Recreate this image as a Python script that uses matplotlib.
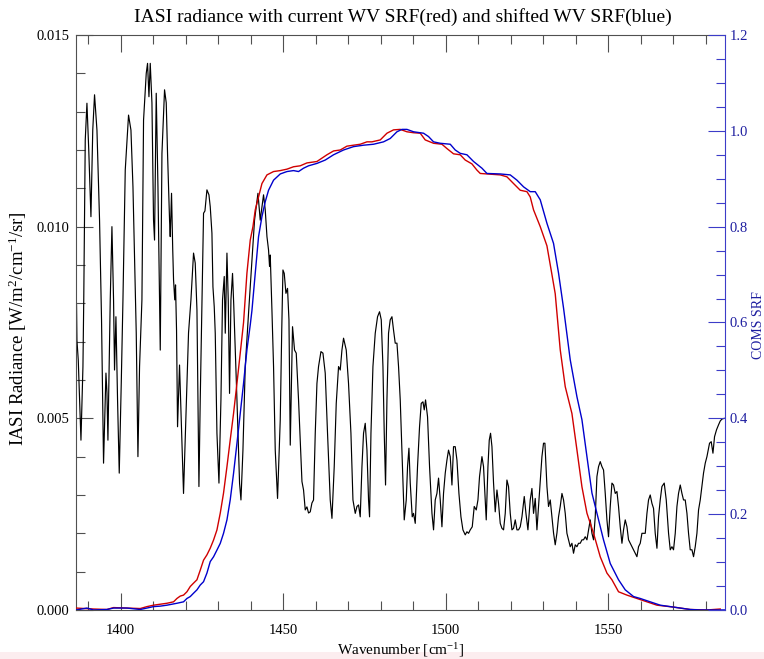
import numpy as np
import matplotlib.pyplot as plt
from matplotlib.ticker import MultipleLocator, FormatStrFormatter
from matplotlib.patches import Rectangle

plt.rcParams['font.family'] = 'Liberation Serif'
plt.rcParams['mathtext.fontset'] = 'custom'
plt.rcParams['mathtext.rm'] = 'Liberation Serif'
plt.rcParams['mathtext.it'] = 'Liberation Serif:italic'

# IASI spectrum: wavenumber [cm-1], radiance in 1e-3 W/m2/cm-1/sr
wn = [1386.46, 1386.58, 1386.99, 1387.82, 1388.43, 1388.68, 1389.14, 1389.66, 1390.22, 1390.89,
      1391.45, 1392.00, 1392.74, 1393.54, 1394.15, 1394.77, 1395.51, 1395.82, 1396.12, 1396.83,
      1397.35, 1397.85, 1398.15, 1398.58, 1399.08, 1399.60, 1400.22, 1400.74, 1401.45, 1402.46,
      1403.20, 1403.82, 1404.52, 1404.83, 1405.35, 1405.85, 1406.58, 1407.08, 1407.91, 1408.31,
      1408.74, 1409.14, 1409.66, 1410.15, 1410.46, 1410.98, 1411.51, 1412.00, 1412.22, 1412.74,
      1413.54, 1414.06, 1414.46, 1415.08, 1415.29, 1415.69, 1416.06, 1416.31, 1416.68, 1416.92,
      1417.23, 1417.54, 1418.15, 1418.68, 1419.38, 1420.43, 1420.92, 1421.66, 1422.46, 1422.98,
      1423.51, 1423.82, 1424.12, 1424.52, 1425.05, 1425.54, 1425.97, 1426.58, 1427.20, 1427.60,
      1428.12, 1428.43, 1428.83, 1429.14, 1429.66, 1430.28, 1430.89, 1431.38, 1431.91, 1432.22,
      1432.74, 1433.14, 1433.54, 1433.97, 1434.46, 1434.83, 1435.82, 1436.62, 1437.05, 1437.66,
      1438.37, 1439.45, 1441.23, 1442.28, 1442.98, 1444.00, 1444.52, 1445.05, 1445.54, 1445.85,
      1446.06, 1446.58, 1447.08, 1447.60, 1448.31, 1449.14, 1449.60, 1449.97, 1450.37, 1450.89,
      1451.38, 1451.82, 1452.22, 1452.92, 1453.54, 1454.06, 1454.77, 1455.45, 1455.82, 1456.31,
      1456.83, 1457.35, 1457.85, 1458.37, 1458.89, 1459.38, 1459.91, 1460.43, 1460.92, 1461.66,
      1462.28, 1462.98, 1463.69, 1464.52, 1465.05, 1465.75, 1466.37, 1467.08, 1467.60, 1468.12,
      1468.62, 1469.45, 1470.15, 1470.89, 1471.51, 1472.22, 1472.74, 1473.23, 1473.75, 1474.28,
      1474.77, 1475.29, 1475.82, 1476.31, 1476.62, 1477.05, 1477.66, 1478.37, 1479.08, 1479.69,
      1480.22, 1480.74, 1481.14, 1481.54, 1481.97, 1482.46, 1482.98, 1483.51, 1484.00, 1484.52,
      1485.05, 1485.54, 1486.06, 1486.58, 1487.29, 1487.91, 1488.31, 1488.74, 1489.14, 1489.75,
      1490.15, 1490.68, 1491.38, 1492.00, 1492.52, 1493.05, 1493.45, 1493.85, 1494.46, 1495.08,
      1495.82, 1496.31, 1496.83, 1497.35, 1497.85, 1498.37, 1498.89, 1499.38, 1499.91, 1500.43,
      1500.92, 1501.45, 1501.97, 1502.46, 1502.98, 1503.51, 1504.12, 1504.74, 1505.35, 1506.06,
      1506.58, 1507.08, 1507.60, 1508.22, 1508.83, 1509.45, 1509.97, 1510.46, 1511.20, 1511.69,
      1512.22, 1512.52, 1513.05, 1513.45, 1513.85, 1514.28, 1514.77, 1515.29, 1515.82, 1516.31,
      1516.83, 1517.35, 1517.85, 1518.37, 1518.89, 1519.38, 1519.91, 1520.43, 1520.92, 1521.45,
      1521.97, 1522.46, 1522.98, 1523.51, 1524.22, 1524.74, 1525.35, 1526.06, 1526.58, 1527.08,
      1527.60, 1528.12, 1528.62, 1529.14, 1529.66, 1530.15, 1530.58, 1531.20, 1531.69, 1532.22,
      1532.74, 1533.23, 1533.75, 1534.28, 1534.77, 1535.29, 1535.82, 1536.31, 1536.83, 1537.35,
      1537.85, 1538.37, 1538.89, 1539.38, 1539.91, 1540.43, 1540.92, 1541.45, 1541.97, 1542.46,
      1542.98, 1543.51, 1544.00, 1544.52, 1545.05, 1545.54, 1546.06, 1546.58, 1547.08, 1547.60,
      1548.12, 1548.62, 1549.14, 1549.66, 1550.15, 1550.68, 1551.20, 1551.69, 1552.22, 1552.74,
      1553.23, 1553.75, 1554.28, 1554.77, 1555.29, 1555.82, 1556.31, 1556.83, 1557.35, 1557.85,
      1558.37, 1558.89, 1559.38, 1559.91, 1560.43, 1560.92, 1561.45, 1561.97, 1562.46, 1562.98,
      1563.51, 1564.00, 1564.52, 1565.05, 1565.54, 1566.06, 1566.58, 1567.29, 1567.91, 1568.62,
      1569.14, 1569.66, 1570.15, 1570.68, 1571.20, 1571.69, 1572.22, 1572.74, 1573.23, 1573.75,
      1574.28, 1574.77, 1575.29, 1575.82, 1576.31, 1576.83, 1577.35, 1577.85, 1578.37, 1578.89,
      1579.38, 1579.91, 1580.43, 1581.23, 1581.75, 1582.28, 1582.77, 1583.38, 1584.00, 1584.52,
      1585.05, 1585.75]
rad_milli = [7.96, 7.04, 6.52, 4.43, 6.35, 8.09, 12.26, 13.22, 12.00, 10.26,
             12.52, 13.44, 12.52, 10.17, 7.57, 3.83, 6.18, 5.66, 4.43, 8.09,
             10.00, 8.09, 6.26, 7.65, 5.48, 3.57, 5.92, 8.09, 11.48, 12.91,
             12.52, 11.04, 8.43, 7.23, 4.00, 6.35, 8.09, 12.78, 14.00, 14.26,
             13.39, 14.26, 13.23, 10.17, 9.65, 13.48, 11.04, 8.17, 6.78, 11.91,
             13.57, 13.23, 11.91, 10.17, 9.74, 10.87, 9.39, 8.61, 8.09, 8.48,
             7.30, 4.78, 6.39, 4.96, 3.04, 5.92, 7.23, 8.09, 9.31, 9.05,
             7.83, 5.48, 3.22, 5.48, 8.09, 10.35, 10.41, 10.96, 10.83, 10.52,
             9.83, 8.43, 7.91, 7.22, 4.61, 3.31, 5.48, 8.09, 8.70, 7.22,
             9.31, 8.09, 5.65, 8.09, 8.78, 7.96, 5.48, 3.31, 2.87, 4.17,
             6.35, 7.83, 10.17, 10.87, 10.17, 10.83, 10.44, 9.74, 9.39, 8.96,
             9.26, 7.83, 6.35, 4.17, 2.91, 4.96, 7.30, 8.87, 8.78, 8.26,
             8.39, 7.57, 4.30, 7.39, 6.78, 6.70, 5.48, 4.10, 3.35, 3.13,
             2.61, 2.69, 2.53, 2.56, 2.79, 2.87, 4.61, 5.91, 6.35, 6.74,
             6.70, 6.18, 4.61, 2.87, 2.39, 3.74, 5.39, 6.35, 6.26, 6.78,
             7.09, 6.78, 5.91, 4.61, 2.87, 2.52, 2.70, 2.74, 2.43, 3.74,
             4.61, 4.87, 4.17, 2.87, 2.43, 4.61, 6.35, 7.22, 7.65, 7.78,
             7.57, 6.35, 4.61, 3.26, 5.48, 7.22, 7.57, 7.65, 7.30, 6.96,
             6.96, 6.35, 5.48, 4.17, 2.35, 2.87, 3.74, 4.22, 3.31, 2.43,
             2.52, 2.26, 3.74, 4.78, 5.39, 5.43, 5.22, 5.48, 5.04, 3.74,
             2.52, 2.09, 2.87, 3.04, 3.44, 2.87, 2.17, 3.04, 3.57, 3.91,
             4.17, 4.00, 3.26, 4.26, 4.26, 3.91, 3.04, 2.43, 2.09, 1.96,
             2.04, 2.00, 2.09, 2.17, 2.70, 2.61, 2.87, 3.48, 4.00, 3.74,
             2.87, 2.35, 3.74, 4.43, 4.61, 4.26, 3.31, 2.56, 3.13, 2.78,
             2.26, 2.13, 2.09, 2.52, 3.39, 3.22, 2.52, 2.09, 2.13, 2.35,
             2.09, 2.09, 2.17, 2.43, 2.96, 2.52, 2.09, 2.87, 3.17, 2.52,
             2.91, 2.09, 2.70, 3.31, 4.00, 4.35, 4.35, 3.22, 2.70, 2.87,
             2.43, 2.01, 1.70, 2.01, 2.43, 2.70, 3.04, 2.87, 2.52, 2.00,
             1.83, 1.65, 1.74, 1.48, 1.70, 1.65, 1.74, 1.74, 1.83, 1.83,
             1.91, 1.83, 2.09, 2.35, 2.00, 1.83, 2.43, 3.48, 3.74, 3.87,
             3.74, 3.65, 3.04, 2.35, 1.91, 2.70, 3.31, 3.26, 3.04, 3.09,
             2.70, 2.17, 1.74, 2.09, 2.35, 2.17, 1.83, 1.74, 1.65, 1.57,
             1.48, 1.39, 1.65, 1.74, 2.00, 2.00, 2.00, 2.52, 2.87, 3.00,
             2.78, 2.65, 2.00, 1.61, 2.43, 2.87, 3.22, 3.31, 2.87, 2.00,
             1.57, 1.65, 1.57, 2.00, 2.70, 3.04, 3.26, 3.04, 2.87, 2.87,
             2.52, 2.00, 1.57, 1.57, 1.39, 1.65, 2.00, 2.61, 2.87, 3.22,
             3.57, 3.83, 4.00, 4.35, 4.39, 4.09, 4.52, 4.70, 4.83, 4.93,
             4.98, 5.00]

# COMS WV spectral response, current
srf_cur_wn = [1386.37, 1391.69, 1395.81, 1397.85, 1401.97, 1406.06, 1408.12, 1410.15, 1412.22, 1414.28,
              1416.31, 1417.35, 1418.37, 1419.38, 1420.43, 1421.45, 1422.46, 1423.51, 1424.52, 1425.54,
              1426.58, 1427.60, 1428.62, 1429.66, 1430.68, 1431.69, 1432.74, 1433.75, 1434.77, 1435.82,
              1436.83, 1437.85, 1438.89, 1439.91, 1440.74, 1441.45, 1442.46, 1443.51, 1445.05, 1447.08,
              1449.14, 1451.20, 1453.23, 1455.29, 1457.35, 1460.43, 1463.51, 1465.54, 1467.60, 1469.66,
              1471.69, 1473.75, 1475.82, 1477.35, 1479.91, 1481.97, 1484.00, 1486.06, 1488.12, 1490.15,
              1492.22, 1493.75, 1496.31, 1498.89, 1500.43, 1502.46, 1504.52, 1506.06, 1508.12, 1509.66,
              1510.68, 1512.74, 1516.83, 1518.89, 1520.92, 1522.98, 1525.05, 1526.06, 1527.08, 1529.14,
              1531.20, 1532.74, 1533.75, 1535.29, 1536.83, 1538.89, 1540.43, 1541.97, 1543.51, 1545.54,
              1547.60, 1549.66, 1551.20, 1553.23, 1555.82, 1558.89, 1561.97, 1565.05, 1570.15, 1575.29,
              1580.43, 1584.52]
srf_cur = [0.004, 0.002, 0.001, 0.005, 0.004, 0.003, 0.007, 0.010, 0.012, 0.014,
           0.017, 0.024, 0.029, 0.031, 0.038, 0.049, 0.056, 0.063, 0.083, 0.104,
           0.115, 0.129, 0.146, 0.167, 0.202, 0.244, 0.299, 0.355, 0.410, 0.473,
           0.536, 0.600, 0.703, 0.772, 0.800, 0.835, 0.862, 0.890, 0.908, 0.915,
           0.917, 0.920, 0.925, 0.927, 0.933, 0.936, 0.950, 0.958, 0.960, 0.968,
           0.970, 0.972, 0.977, 0.977, 0.981, 0.995, 1.002, 1.003, 0.998, 0.996,
           0.995, 0.981, 0.974, 0.972, 0.963, 0.952, 0.950, 0.939, 0.931, 0.918,
           0.911, 0.910, 0.908, 0.904, 0.890, 0.876, 0.873, 0.862, 0.835, 0.800,
           0.760, 0.700, 0.660, 0.543, 0.466, 0.410, 0.334, 0.257, 0.202, 0.160,
           0.111, 0.077, 0.063, 0.038, 0.031, 0.024, 0.017, 0.010, 0.006, 0.001,
           0.000, 0.002]

# COMS WV spectral response, shifted
srf_sft_wn = [1386.37, 1389.66, 1391.69, 1395.81, 1397.85, 1401.97, 1406.06, 1408.12, 1410.15, 1412.22,
              1414.28, 1417.35, 1419.38, 1420.43, 1421.45, 1422.46, 1423.51, 1424.52, 1425.54, 1426.58,
              1427.60, 1428.62, 1429.66, 1430.68, 1431.69, 1432.74, 1433.75, 1434.77, 1435.82, 1436.83,
              1437.85, 1438.89, 1439.91, 1440.43, 1441.45, 1442.46, 1443.51, 1444.52, 1445.54, 1447.08,
              1449.14, 1451.20, 1453.23, 1454.77, 1456.31, 1457.85, 1460.43, 1462.98, 1465.54, 1468.62,
              1471.69, 1474.77, 1477.85, 1480.92, 1482.98, 1485.05, 1486.58, 1488.12, 1490.15, 1493.23,
              1494.77, 1496.31, 1498.37, 1501.45, 1502.98, 1504.52, 1506.58, 1508.62, 1511.20, 1512.74,
              1516.83, 1519.91, 1521.97, 1524.02, 1526.06, 1527.60, 1529.14, 1531.20, 1533.23, 1534.77,
              1536.31, 1538.37, 1540.43, 1541.97, 1543.51, 1545.05, 1546.58, 1548.62, 1550.68, 1553.23,
              1555.29, 1557.85, 1559.91, 1562.98, 1566.06, 1570.15, 1575.29, 1578.37, 1586.00]
srf_sft = [0.000, 0.004, 0.000, 0.001, 0.004, 0.004, 0.001, 0.004, 0.007, 0.008,
           0.010, 0.014, 0.017, 0.024, 0.028, 0.035, 0.042, 0.052, 0.059, 0.077,
           0.101, 0.111, 0.125, 0.139, 0.160, 0.188, 0.230, 0.285, 0.348, 0.410,
           0.473, 0.543, 0.595, 0.625, 0.703, 0.779, 0.821, 0.852, 0.876, 0.897,
           0.910, 0.915, 0.917, 0.915, 0.922, 0.927, 0.932, 0.939, 0.950, 0.960,
           0.967, 0.970, 0.972, 0.977, 0.984, 0.998, 1.003, 1.003, 0.998, 0.995,
           0.988, 0.977, 0.974, 0.972, 0.960, 0.953, 0.950, 0.936, 0.922, 0.911,
           0.910, 0.908, 0.897, 0.883, 0.873, 0.873, 0.856, 0.807, 0.765, 0.703,
           0.630, 0.522, 0.445, 0.397, 0.320, 0.244, 0.202, 0.146, 0.097, 0.063,
           0.042, 0.028, 0.024, 0.017, 0.010, 0.006, 0.001, 0.000, 0.000]

axis_grey = '#505050'
srf_axis_blue = '#3c3cc8'
label_blue = '#1e1ea0'

fig = plt.figure(figsize=(7.64, 6.59), dpi=100)
ax = fig.add_axes([0.0995, 0.0744, 0.8495, 0.8725])

ax.plot(wn, np.array(rad_milli) * 1e-3, color='black', lw=0.85)
ax.set_xlim(1386.3, 1586.0)
ax.set_ylim(0, 0.015)
ax.xaxis.set_major_locator(MultipleLocator(50))
ax.xaxis.set_minor_locator(MultipleLocator(10))
ax.yaxis.set_major_locator(MultipleLocator(0.005))
ax.yaxis.set_minor_locator(MultipleLocator(0.001))
ax.yaxis.set_major_formatter(FormatStrFormatter('%.3f'))
ax.tick_params(which='both', direction='in', top=True, right=False,
               color=axis_grey, width=0.8, labelsize=10.5)
ax.tick_params(which='major', length=12)
ax.tick_params(which='minor', length=6.5)
ax.tick_params(axis='x', which='major', pad=10)
ax.tick_params(axis='y', which='major', pad=5)
for side in ['left', 'bottom', 'top']:
    ax.spines[side].set_color(axis_grey)
    ax.spines[side].set_linewidth(0.8)
ax.spines['right'].set_visible(False)

ax.set_xlabel('Wavenumber [cm$^{-1}$]', fontsize=11, labelpad=3)
ax.set_ylabel('IASI Radiance [W/m$^{2}$/cm$^{-1}$/sr]', fontsize=13.5, labelpad=5)
ax.yaxis.label.set_y(0.49)

# SRF curves on the right-hand axis
ax2 = ax.twinx()
ax2.plot(srf_cur_wn, srf_cur, color='#d00000', lw=1.0)
ax2.plot(srf_sft_wn, srf_sft, color='#0000cc', lw=1.0)
ax2.set_ylim(0, 1.2)
ax2.yaxis.set_major_locator(MultipleLocator(0.2))
ax2.yaxis.set_minor_locator(MultipleLocator(0.05))
ax2.yaxis.set_major_formatter(FormatStrFormatter('%.1f'))
ax2.tick_params(which='both', direction='in', color=srf_axis_blue, width=0.8,
                labelcolor=label_blue, labelsize=10.5, pad=3.5)
ax2.tick_params(which='major', length=12)
ax2.tick_params(which='minor', length=6.5)
for side in ['left', 'bottom', 'top']:
    ax2.spines[side].set_visible(False)
ax2.spines['right'].set_color(srf_axis_blue)
ax2.spines['right'].set_linewidth(0.8)
ax2.set_ylabel('COMS SRF', color=label_blue, fontsize=10)
ax2.yaxis.set_label_coords(1.0415, 0.495)

fig.text(0.527, 0.974, 'IASI radiance with current WV SRF(red) and shifted WV SRF(blue)',
         ha='center', va='center', fontsize=14)

# thin pink strip along the bottom edge, behind the axis label
fig.add_artist(Rectangle((0, 0), 1, 7 / 659, transform=fig.transFigure,
                         facecolor='#fcedef', edgecolor='none', zorder=-1))

fig.savefig('out.png', dpi=100)
